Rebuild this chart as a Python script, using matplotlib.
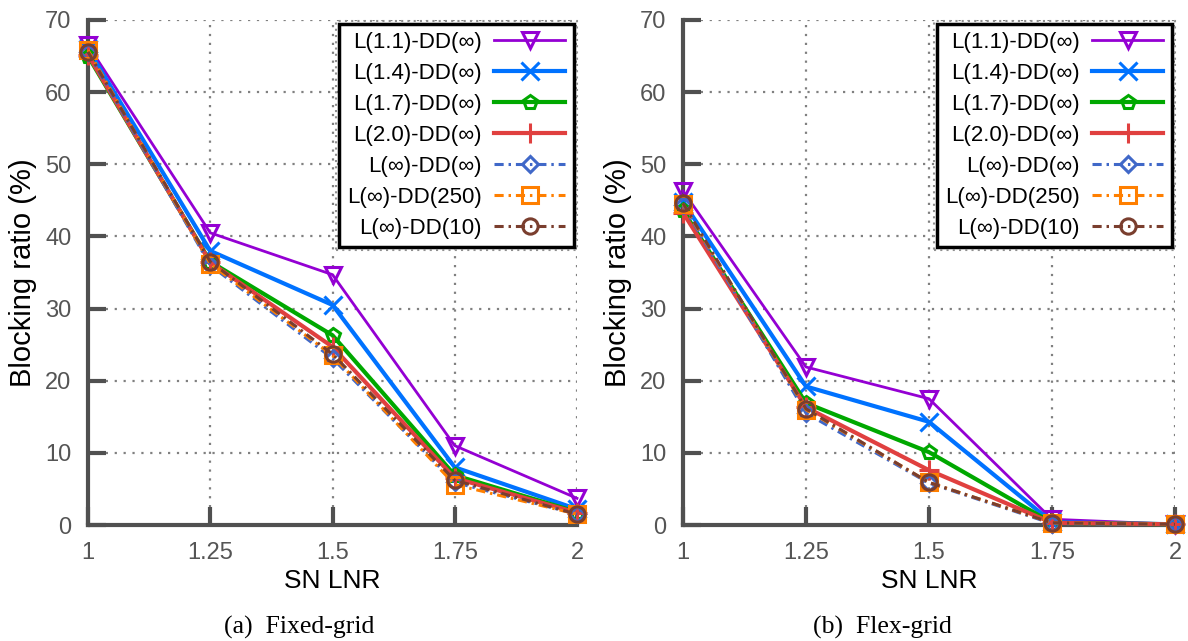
import matplotlib
matplotlib.use("Agg")
import matplotlib.pyplot as plt
from matplotlib.patches import Rectangle
import numpy as np

x = [1, 1.25, 1.5, 1.75, 2]
labels = ["L(1.1)-DD(∞)", "L(1.4)-DD(∞)", "L(1.7)-DD(∞)", "L(2.0)-DD(∞)",
          "L(∞)-DD(∞)", "L(∞)-DD(250)", "L(∞)-DD(10)"]

fixed_l11 = [66.5, 40.5, 34.7, 11.0, 3.7]
fixed_l14 = [66.0, 38.0, 30.5, 8.0, 2.2]
fixed_l17 = [65.0, 36.5, 26.3, 6.9, 1.8]
fixed_l20 = [65.2, 36.4, 24.7, 6.5, 1.7]
fixed_dd_inf = [65.5, 36.0, 23.1, 5.9, 1.5]
fixed_dd250 = [65.8, 36.2, 23.5, 5.6, 1.5]
fixed_dd10 = [65.6, 36.5, 23.7, 6.2, 1.5]

flex_l11 = [46.3, 21.9, 17.5, 0.8, 0.1]
flex_l14 = [44.8, 19.2, 14.3, 0.4, 0.1]
flex_l17 = [43.6, 16.9, 10.1, 0.3, 0.1]
flex_l20 = [43.3, 16.3, 7.6, 0.3, 0.1]
flex_dd_inf = [44.3, 15.5, 5.8, 0.2, 0.1]
flex_dd250 = [44.5, 16.0, 5.9, 0.3, 0.1]
flex_dd10 = [44.6, 16.1, 5.9, 0.3, 0.1]

fixed_series = [fixed_l11, fixed_l14, fixed_l17, fixed_l20, fixed_dd_inf, fixed_dd250, fixed_dd10]
flex_series = [flex_l11, flex_l14, flex_l17, flex_l20, flex_dd_inf, flex_dd250, flex_dd10]

colors = ["#9400D3", "#0072FF", "#00A800", "#E0403F", "#4068C8", "#FF7F00", "#7A3E2E"]
markers = ["v", "x", "p", "+", "D", "s", "o"]
msizes = [11, 13, 10, 14, 8, 11, 11]
lws = [2.0, 3.0, 3.0, 3.0, 2.2, 2.2, 2.2]
ddash = (0, (3, 1.6, 0.8, 1.6))
styles = ["-", "-", "-", "-", ddash, ddash, ddash]

plt.rcParams['font.family'] = ['Liberation Sans Narrow', 'Liberation Sans', 'DejaVu Sans']

fig = plt.figure(figsize=(11.88, 6.41), dpi=100)
W, H = 1188, 641
ax1 = fig.add_axes([88 / W, 1 - 525 / H, (577 - 88) / W, (525 - 20) / H])
ax2 = fig.add_axes([683 / W, 1 - 525 / H, (1175 - 683) / W, (525 - 20) / H])

gray = "#505050"
legends = []
for ax, series in [(ax1, fixed_series), (ax2, flex_series)]:
    for s, lab, c, m, ms, lw, ls in zip(series, labels, colors, markers, msizes, lws, styles):
        ax.plot(x, s, color=c, marker=m, markersize=ms, linewidth=lw, linestyle=ls,
                markerfacecolor="none", markeredgecolor=c, markeredgewidth=2.2,
                label=lab, clip_on=False, zorder=3)
    ax.set_xlim(1, 2)
    ax.set_ylim(0, 70)
    ax.set_xticks(x)
    ax.set_xticklabels(["1", "1.25", "1.5", "1.75", "2"])
    ax.set_yticks(np.arange(0, 71, 10))
    ax.grid(True, linestyle=(0, (1, 3)), color="#808080", linewidth=1.6)
    ax.set_axisbelow(True)
    for sp in ["top", "right"]:
        ax.spines[sp].set_visible(False)
    for sp in ["left", "bottom"]:
        ax.spines[sp].set_color(gray)
        ax.spines[sp].set_linewidth(3)
    ax.tick_params(direction="in", length=13, width=3, color=gray,
                   labelsize=17, labelcolor="#555555", pad=12)
    ax.set_xlabel("SN LNR", fontsize=19, labelpad=4)
    ax.set_ylabel("Blocking ratio (%)", fontsize=21, labelpad=6)
    leg = ax.legend(loc="upper right", bbox_to_anchor=(0.993, 0.993), markerfirst=False,
                    fontsize=16, frameon=True, fancybox=False, handlelength=3.2,
                    labelspacing=0.45, borderpad=0.38, handletextpad=0.55,
                    borderaxespad=0.0)
    fr = leg.get_frame()
    fr.set_edgecolor("black")
    fr.set_linewidth(2.5)
    fr.set_alpha(1)
    leg.set_zorder(5)
    legends.append(leg)

fig.text(299 / W, 1 - 627 / H, "(a)  Fixed-grid", ha="center", va="center",
         fontsize=18.5, family="Liberation Serif")
fig.text(882 / W, 1 - 627 / H, "(b)  Flex-grid", ha="center", va="center",
         fontsize=18.5, family="Liberation Serif")

fig.canvas.draw()
for leg in legends:
    bb = leg.get_window_extent()
    pad = 3
    rect = Rectangle(((bb.x0 - pad) / W, (bb.y0 - pad) / H),
                     (bb.width + 2 * pad) / W, (bb.height + 2 * pad) / H,
                     transform=fig.transFigure, fill=False, edgecolor="#909090",
                     linewidth=1.5, linestyle=(0, (1, 2)), zorder=6)
    fig.add_artist(rect)

fig.savefig("out.png", dpi=100)
